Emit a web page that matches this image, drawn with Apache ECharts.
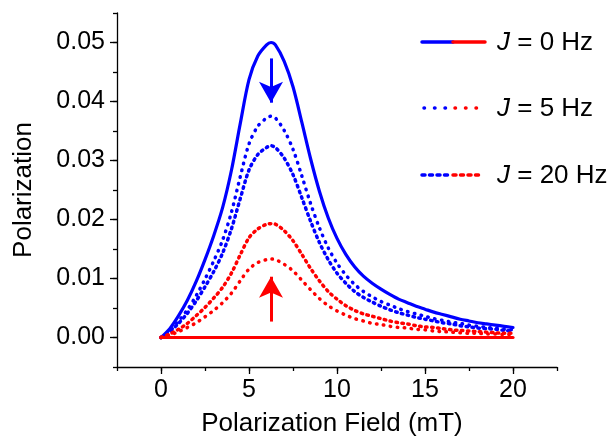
<!DOCTYPE html>
<html>
<head>
<meta charset="utf-8">
<script src="https://cdn.jsdelivr.net/npm/echarts@6/dist/echarts.min.js"></script>
<style>
  html, body { margin: 0; padding: 0; background: #fff; }
  #chart { width: 612px; height: 439px; }
</style>
</head>
<body>
<div id="chart"></div>
<script>
// field values (mT)
var xs = [0, 0.5, 1, 1.5, 2, 2.5, 3, 3.5, 4, 4.5, 5, 5.5, 6, 6.25, 6.5, 7, 7.5, 8, 8.5, 9, 9.5, 10,
          10.5, 11, 11.5, 12, 12.5, 13, 13.5, 14, 14.5, 15, 15.5, 16, 16.5, 17, 17.5, 18, 18.5, 19, 19.5, 20];

// blue curves
var blueJ0 = [0, .0015, .0037, .0063, .0095, .0132, .0173, .0220, .0283, .0362, .0437, .0477, .0496, .0500,
              .0496, .0468, .0425, .0365, .0303, .0248, .0203, .0168, .0141, .0120, .0104, .0092, .0082, .0073, .0065,
              .0059, .0053, .0048, .0043, .0039, .0035, .0031, .0028, .0025, .0023, .0021, .0019, .0017];
var blueJ5 = [0, .0011, .0028, .0047, .0071, .0099, .0130, .0165, .0212, .0272, .0328, .0358, .0372, .0375,
              .0372, .0351, .0319, .0274, .0227, .0186, .0152, .0126, .0106, .0090, .0078, .0069, .0061, .0055, .0049,
              .0044, .0040, .0036, .0032, .0029, .0026, .0024, .0021, .0019, .0017, .0016, .0014, .0013];
var blueJ20 = [0, .0010, .0024, .0041, .0062, .0086, .0112, .0143, .0184, .0235, .0284, .0310, .0322, .0325,
               .0322, .0304, .0276, .0237, .0197, .0161, .0132, .0109, .0092, .0078, .0068, .0060, .0053, .0047, .0042,
               .0038, .0034, .0031, .0028, .0025, .0023, .0020, .0018, .0016, .0015, .0014, .0012, .0011];

// red curves
var redJ0X = [0, 20];
var redJ0 = [0, 0];
var redJ5 = [0, .0004, .0010, .0017, .0025, .0035, .0046, .0059, .0075, .0096, .0116, .0127, .0132, .0133,
             .0132, .0124, .0113, .0097, .0081, .0066, .0054, .0045, .0038, .0032, .0028, .0024, .0022, .0019, .0017,
             .0016, .0014, .0013, .0011, .0010, .0009, .0008, .0007, .0007, .0006, .0006, .0005, .0005];
var redJ20 = [0, .0006, .0014, .0024, .0037, .0051, .0067, .0085, .0109, .0140, .0169, .0184, .0192, .0193,
              .0192, .0181, .0164, .0141, .0117, .0096, .0078, .0065, .0054, .0046, .0040, .0036, .0032, .0028, .0025,
              .0023, .0020, .0018, .0017, .0015, .0013, .0012, .0011, .0010, .0009, .0008, .0007, .0007];

// arrows (tail, tip) in data coords
var blueArrow = [[6.25, 0.0473], [6.25, 0.0398]];
var redArrow = [[6.25, 0.0027], [6.25, 0.0103]];

var xTicks = [0, 5, 10, 15, 20];
var yTicks = [0, 0.01, 0.02, 0.03, 0.04, 0.05];
var legendNames = ['J = 0 Hz', 'J = 5 Hz', 'J = 20 Hz'];

var BLUE = '#0000ff', RED = '#ff0000';
var FONT = 'Liberation Sans, Arial, sans-serif';
var DOT = [0.5, 6.5], DASH = [1.5, 4.5];

function pairs(x, y) {
    return x.map(function (v, i) { return [v, y[i]]; });
}

function curve(name, x, y, color, dash, width) {
    return {
        name: name,
        type: 'line',
        data: pairs(x, y),
        showSymbol: false,
        smooth: 0.3,
        silent: true,
        lineStyle: { color: color, width: width, type: dash || 'solid', cap: 'round', join: 'round' }
    };
}

function arrow(seg, color) {
    return {
        silent: true,
        symbol: ['none', 'arrow'],
        symbolSize: [18, 21],
        label: { show: false },
        lineStyle: { color: color, width: 3, type: 'solid' },
        itemStyle: { color: color },
        data: [[{ coord: seg[0] }, { coord: seg[1] }]]
    };
}

var series = [
    curve('blue0', xs, blueJ0, BLUE, null, 3.2),
    curve('blue5', xs, blueJ5, BLUE, DOT, 3.5),
    curve('blue20', xs, blueJ20, BLUE, DASH, 3.5),
    curve('red5', xs, redJ5, RED, DOT, 3.5),
    curve('red20', xs, redJ20, RED, DASH, 3.5),
    curve('red0', redJ0X, redJ0, RED, null, 3.2)
];
series[0].markLine = arrow(blueArrow, BLUE);
series[3].markLine = arrow(redArrow, RED);

// legend drawn by hand: each key is half blue, half red
var keys = [
    { y: 42, dash: null, blue: [422, 453], red: [453, 485] },
    { y: 108, dash: [0.5, 10], blue: [424, 446], red: [455, 477] },
    { y: 175, dash: [3, 4.5], blue: [422, 452], red: [453, 483] }
];
var graphic = [];
keys.forEach(function (k, i) {
    [['blue', BLUE], ['red', RED]].forEach(function (c) {
        graphic.push({
            type: 'line',
            silent: true,
            shape: { x1: k[c[0]][0], y1: k.y, x2: k[c[0]][1], y2: k.y },
            style: { stroke: c[1], lineWidth: 3.5, lineCap: 'round', lineDash: k.dash }
        });
    });
    graphic.push({
        type: 'text',
        silent: true,
        x: 497,
        y: k.y + 1,
        style: {
            text: '{i|J}' + legendNames[i].slice(1),
            fill: '#000',
            font: '26px ' + FONT,
            verticalAlign: 'middle',
            rich: { i: { fontStyle: 'italic', fontSize: 26, fontFamily: FONT, fill: '#000' } }
        }
    });
});

var axisLine = { show: true, onZero: false, lineStyle: { color: '#000', width: 1.3 } };
var labelStyle = { color: '#000', fontSize: 25, fontFamily: FONT };

var myChart = echarts.init(document.getElementById('chart'));
var option = {
    animation: false,
    backgroundColor: '#fff',
    grid: { left: 117, right: 55, top: 13, bottom: 72, outerBoundsMode: 'none', containLabel: false },
    xAxis: [
        {
            type: 'value',
            min: -2.5,
            max: 22.5,
            position: 'bottom',
            axisLine: axisLine,
            axisTick: { show: true, length: 7, customValues: xTicks, lineStyle: { color: '#000', width: 1.3 } },
            axisLabel: Object.assign({ margin: 11, customValues: xTicks }, labelStyle),
            splitLine: { show: false },
            name: 'Polarization Field (mT)',
            nameLocation: 'middle',
            nameGap: 44,
            nameTextStyle: { color: '#000', fontSize: 26, fontFamily: FONT, verticalAlign: 'top', padding: [0, 10, 0, 0] }
        },
        {
            type: 'value',
            min: -2.5,
            max: 22.5,
            interval: 2.5,
            position: 'bottom',
            offset: 0,
            axisLine: { show: false, onZero: false },
            axisTick: { show: true, length: 4, lineStyle: { color: '#000', width: 1.3 } },
            axisLabel: { show: false },
            splitLine: { show: false }
        }
    ],
    yAxis: [
        {
            type: 'value',
            min: -0.005,
            max: 0.055,
            position: 'left',
            axisLine: axisLine,
            axisTick: { show: true, length: 7, customValues: yTicks, lineStyle: { color: '#000', width: 1.3 } },
            axisLabel: Object.assign({
                margin: 12,
                customValues: yTicks,
                formatter: function (v) { return v.toFixed(2); }
            }, labelStyle),
            splitLine: { show: false },
            name: 'Polarization',
            nameLocation: 'middle',
            nameGap: 80,
            nameTextStyle: { color: '#000', fontSize: 26, fontFamily: FONT }
        },
        {
            type: 'value',
            min: -0.005,
            max: 0.055,
            interval: 0.005,
            position: 'left',
            offset: 0,
            axisLine: { show: false, onZero: false },
            axisTick: { show: true, length: 4, lineStyle: { color: '#000', width: 1.3 } },
            axisLabel: { show: false },
            splitLine: { show: false }
        }
    ],
    graphic: graphic,
    series: series
};
myChart.setOption(option);
</script>
</body>
</html>
